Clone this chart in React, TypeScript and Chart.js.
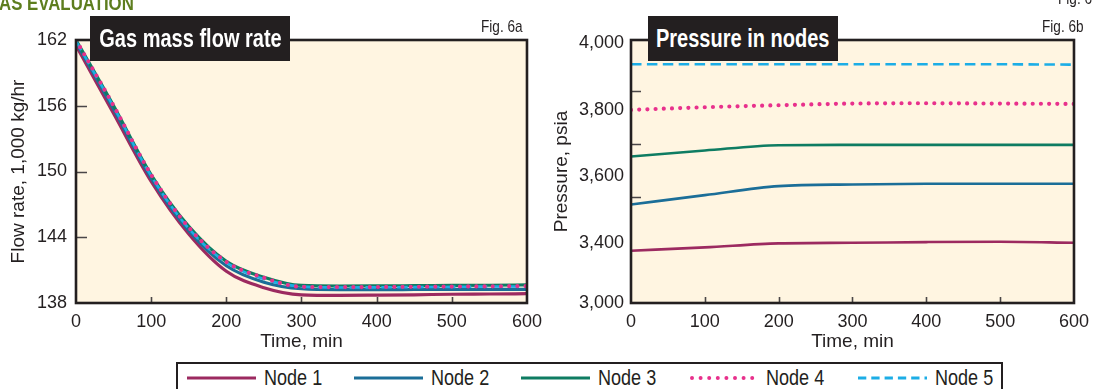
import React, { useEffect, useRef } from 'react';
import { Chart, registerables } from 'chart.js';
Chart.register(...registerables);

// ---------- DATA ----------
const flowTime = [0, 50, 100, 150, 200, 250, 300, 350, 400, 450, 500, 550, 600];
const flowNode1 = [161.5, 155.3, 149.1, 144.3, 140.9, 139.4, 138.75, 138.7, 138.72, 138.75, 138.8, 138.82, 138.85];
const flowNode2 = [161.8, 155.7, 149.4, 144.6, 141.4, 139.9, 139.3, 139.22, 139.22, 139.23, 139.24, 139.25, 139.25];
const flowNode3 = [162.0, 156.0, 149.7, 145.0, 141.8, 140.35, 139.6, 139.55, 139.56, 139.58, 139.6, 139.62, 139.65];
const flowNode4 = [162.0, 156.0, 149.7, 144.9, 141.75, 140.3, 139.48, 139.45, 139.46, 139.48, 139.5, 139.52, 139.55];
const flowNode5 = [161.9, 155.9, 149.6, 144.8, 141.7, 140.2, 139.5, 139.42, 139.43, 139.45, 139.47, 139.5, 139.5];
const flowYTicks = [138, 144, 150, 156, 162];
const flowYMarks = [144, 150, 156];

const pressTime = [0, 100, 200, 300, 400, 500, 600];
const pressNode1 = [3377, 3387, 3399, 3401, 3403, 3404, 3401];
const pressNode2 = [3516, 3544, 3571, 3576, 3578, 3578, 3578];
const pressNode3 = [3660, 3678, 3694, 3695, 3695, 3695, 3695];
const pressNode4 = [3800, 3808, 3814, 3819, 3820, 3819, 3818];
const pressNode5 = [3937, 3937, 3937, 3937, 3937, 3937, 3936];
const pressYTickValues = [3220, 3400, 3600, 3800, 4000];
const pressYTickLabels = ['3,000', '3,400', '3,600', '3,800', '4,000'];
const pressYMarks = [3538, 3698, 3857];

const xTicks = [0, 100, 200, 300, 400, 500, 600];
const xMarks = [100, 200, 300, 400, 500];

const nodeNames = ['Node 1', 'Node 2', 'Node 3', 'Node 4', 'Node 5'];
const nodeColors = ['#9c2a60', '#1b6e98', '#0e7c62', '#e8308c', '#1cade6'];

// ---------- STYLE ----------
const INK = '#231f20';
const CREAM = '#fff5e1';
const AXIS_FONT = 'Liberation Sans, Arial, Helvetica, sans-serif';
const SANS = '"Liberation Sans", Arial, sans-serif';

function framePlugin(yMarks: number[], yMarkLen: number) {
  return {
    id: 'frame',
    beforeDraw(chart: any) {
      const { ctx, chartArea: a } = chart;
      ctx.save();
      ctx.fillStyle = CREAM;
      ctx.fillRect(a.left, a.top, a.right - a.left, a.bottom - a.top);
      ctx.restore();
    },
    afterDatasetsDraw(chart: any) {
      const { ctx, chartArea: a, scales } = chart;
      ctx.save();
      ctx.strokeStyle = '#4a4647';
      ctx.lineWidth = 1.6;
      ctx.beginPath();
      yMarks.forEach((v) => {
        const y = Math.round(scales.y.getPixelForValue(v)) + 0.5;
        ctx.moveTo(a.left, y);
        ctx.lineTo(a.left + yMarkLen, y);
      });
      xMarks.forEach((v) => {
        const x = Math.round(scales.x.getPixelForValue(v)) + 0.5;
        ctx.moveTo(x, a.bottom);
        ctx.lineTo(x, a.bottom - 6);
      });
      ctx.stroke();
      ctx.strokeStyle = INK;
      ctx.lineWidth = 2.6;
      ctx.strokeRect(a.left, a.top, a.right - a.left, a.bottom - a.top);
      ctx.restore();
    },
  };
}

function makeDatasets(xs: number[], series: number[][], width: number) {
  const orders = [4, 3, 2, 0, 1];
  return series.map((ys, i) => {
    const ds: any = {
      label: nodeNames[i],
      data: xs.map((x, j) => ({ x, y: ys[j] })),
      borderColor: nodeColors[i],
      backgroundColor: nodeColors[i],
      borderWidth: width,
      pointRadius: 0,
      cubicInterpolationMode: 'monotone',
      fill: false,
      order: orders[i],
    };
    if (i === 3) {
      ds.borderDash = [0, 8.2];
      ds.borderCapStyle = 'round';
      ds.borderWidth = 4.2;
    }
    if (i === 4) {
      ds.borderDash = [10.5, 5.4];
      ds.borderWidth = 2.6;
    }
    return ds;
  });
}

function useChart(ref: React.RefObject<HTMLCanvasElement>, cfg: () => any) {
  useEffect(() => {
    if (!ref.current) return;
    const chart = new Chart(ref.current, cfg());
    return () => chart.destroy();
  }, []);
}

const xScale = (title: string) => ({
  type: 'linear',
  min: 0,
  max: 600,
  afterBuildTicks: (s: any) => { s.ticks = xTicks.map((v) => ({ value: v })); },
  afterFit: (s: any) => { s.height = 50; },
  grid: { display: false, drawTicks: false },
  border: { display: false },
  ticks: { padding: 8, color: INK, font: { family: AXIS_FONT, size: 18 }, maxRotation: 0, autoSkip: false },
  title: { display: true, text: title, color: INK, font: { family: AXIS_FONT, size: 19 }, padding: { top: 0, bottom: 0 } },
});

function FlowChart() {
  const ref = useRef<HTMLCanvasElement>(null);
  useChart(ref, () => ({
    type: 'line',
    data: { datasets: makeDatasets(flowTime, [flowNode1, flowNode2, flowNode3, flowNode4, flowNode5], 3.2) },
    options: {
      responsive: false,
      animation: false,
      layout: { padding: { top: 40, right: 14, bottom: 7, left: 0 } },
      plugins: { legend: { display: false }, tooltip: { enabled: false } },
      scales: {
        x: xScale('Time, min'),
        y: {
          type: 'linear',
          min: 138,
          max: 162,
          afterBuildTicks: (s: any) => { s.ticks = flowYTicks.map((v) => ({ value: v })); },
          afterFit: (s: any) => { s.width = 76; },
          grid: { display: false, drawTicks: false },
          border: { display: false },
          ticks: { padding: 9, color: INK, font: { family: AXIS_FONT, size: 18 } },
          title: { display: true, text: 'Flow rate, 1,000 kg/hr', color: INK, font: { family: AXIS_FONT, size: 19 }, padding: { top: 7, bottom: 0 } },
        },
      },
    },
    plugins: [framePlugin(flowYMarks, 11)],
  }));
  return <canvas ref={ref} width={550} height={360} style={{ position: 'absolute', left: 0, top: 0 }} />;
}

function PressureChart() {
  const ref = useRef<HTMLCanvasElement>(null);
  useChart(ref, () => ({
    type: 'line',
    data: { datasets: makeDatasets(pressTime, [pressNode1, pressNode2, pressNode3, pressNode4, pressNode5], 2.6) },
    options: {
      responsive: false,
      animation: false,
      layout: { padding: { top: 40, right: 12, bottom: 7, left: 0 } },
      plugins: { legend: { display: false }, tooltip: { enabled: false } },
      scales: {
        x: xScale('Time, min'),
        y: {
          type: 'linear',
          min: 3220,
          max: 4010,
          afterBuildTicks: (s: any) => { s.ticks = pressYTickValues.map((v) => ({ value: v })); },
          afterFit: (s: any) => { s.width = 81; },
          grid: { display: false, drawTicks: false },
          border: { display: false },
          ticks: {
            padding: 7,
            color: INK,
            font: { family: AXIS_FONT, size: 18 },
            callback: (v: any) => {
              const i = pressYTickValues.indexOf(Number(v));
              return i >= 0 ? pressYTickLabels[i] : '';
            },
          },
          title: { display: true, text: 'Pressure, psia', color: INK, font: { family: AXIS_FONT, size: 19 }, padding: { top: 0, bottom: 0 } },
        },
      },
    },
    plugins: [framePlugin(pressYMarks, 10)],
  }));
  return <canvas ref={ref} width={547} height={360} style={{ position: 'absolute', left: 550, top: 0 }} />;
}

// condensed text: regular sans squeezed horizontally
function Narrow({ children, scale, style }: { children: React.ReactNode; scale: number; style: React.CSSProperties }) {
  return (
    <div style={{ position: 'absolute', whiteSpace: 'nowrap', transformOrigin: 'left top', transform: `scaleX(${scale})`, fontFamily: SANS, ...style }}>
      {children}
    </div>
  );
}

function TitleBox({ left, width, text }: { left: number; width: number; text: string }) {
  return (
    <div style={{ position: 'absolute', left, top: 16, width, height: 45, background: INK, display: 'flex', alignItems: 'center', justifyContent: 'center' }}>
      <span style={{ display: 'inline-block', color: '#fff', fontFamily: SANS, fontWeight: 700, fontSize: 26, lineHeight: '30px', whiteSpace: 'nowrap', transform: 'scaleX(0.77)', marginTop: -2 }}>
        {text}
      </span>
    </div>
  );
}

function LegendSample({ i }: { i: number }) {
  const c = nodeColors[i];
  let line;
  if (i === 3) line = <line x1={3} y1={6} x2={68} y2={6} stroke={c} strokeWidth={4} strokeLinecap="round" strokeDasharray="0 8.6" />;
  else if (i === 4) line = <line x1={0} y1={6} x2={69} y2={6} stroke={c} strokeWidth={2.8} strokeDasharray="8.3 5" />;
  else line = <line x1={0} y1={6} x2={69} y2={6} stroke={c} strokeWidth={3.2} />;
  return <svg width={70} height={12} style={{ position: 'absolute', left: 0, top: 0, display: 'block' }}>{line}</svg>;
}

const legendStart = [187, 354, 521, 689, 858];

export default function App() {
  return (
    <div style={{ position: 'absolute', left: 0, top: 0, width: 1097, height: 389, overflow: 'hidden', background: '#fff' }}>
      <FlowChart />
      <PressureChart />
      <Narrow scale={0.8} style={{ left: -14, top: -9, fontWeight: 700, fontSize: 21, color: '#5d7d1e' }}>GAS EVALUATION</Narrow>
      <Narrow scale={0.8} style={{ left: 1058, top: -11, fontSize: 17, color: INK }}>Fig. 6</Narrow>
      <TitleBox left={90} width={200} text="Gas mass flow rate" />
      <TitleBox left={648} width={190} text="Pressure in nodes" />
      <Narrow scale={0.8} style={{ left: 481, top: 17, fontSize: 17, color: INK }}>Fig. 6a</Narrow>
      <Narrow scale={0.8} style={{ left: 1042, top: 17, fontSize: 17, color: INK }}>Fig. 6b</Narrow>
      <div style={{ position: 'absolute', left: 176, top: 362, width: 827, height: 40, border: `2.5px solid ${INK}`, boxSizing: 'border-box', background: '#fff' }} />
      {nodeNames.map((n, i) => (
        <React.Fragment key={n}>
          <div style={{ position: 'absolute', left: legendStart[i], top: 372, width: 70, height: 12 }}>
            <LegendSample i={i} />
          </div>
          <Narrow scale={0.82} style={{ left: legendStart[i] + 77, top: 365, fontSize: 22, lineHeight: '26px', color: INK }}>{n}</Narrow>
        </React.Fragment>
      ))}
    </div>
  );
}
